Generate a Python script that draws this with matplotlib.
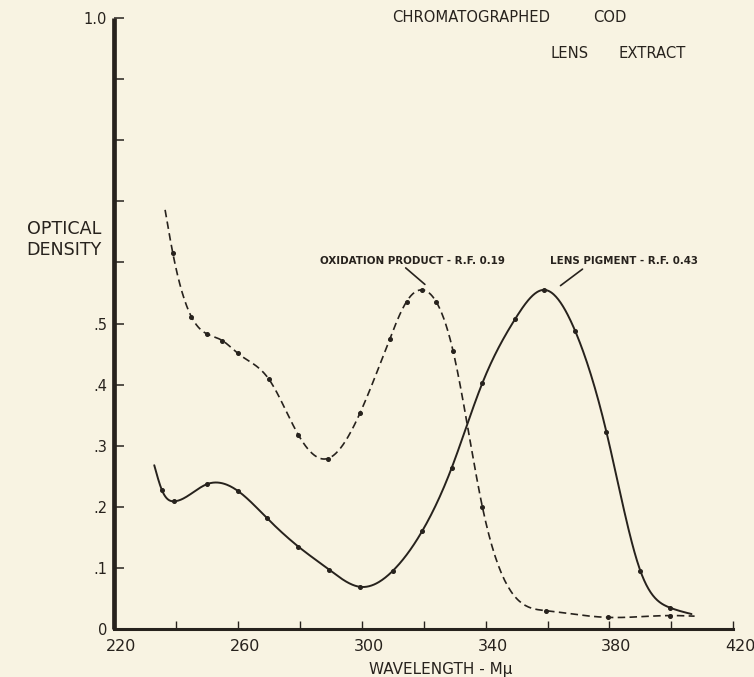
import numpy as np
import matplotlib
matplotlib.use("Agg")
import matplotlib.pyplot as plt
from matplotlib.transforms import ScaledTranslation

# ---------------- data ----------------
# Oxidation product (dashed); first / last entries are curve ends without dots
oxid_wl = [236.5, 239, 245, 250, 255, 260, 270, 279.5, 289, 299.5, 309, 314.5,
           319.5, 324, 329.5, 339, 359.5, 379.5, 399.5, 407.5]
oxid_od = [0.686, 0.615, 0.511, 0.483, 0.472, 0.451, 0.409, 0.318, 0.279, 0.354,
           0.474, 0.536, 0.555, 0.536, 0.455, 0.199, 0.030, 0.019, 0.022, 0.021]
oxid_dot = [False] + [True] * 18 + [False]

# Lens pigment (solid)
lens_wl = [233, 235.5, 239.5, 250, 260, 269.5, 279.5, 289.5, 299.5, 310, 319.5,
           329, 339, 349.5, 359, 369, 379, 390, 399.5, 406.5]
lens_od = [0.268, 0.227, 0.209, 0.237, 0.226, 0.181, 0.135, 0.097, 0.069, 0.095,
           0.160, 0.263, 0.403, 0.507, 0.555, 0.487, 0.323, 0.095, 0.035, 0.0245]
lens_dot = [False] + [True] * 18 + [False]

x_ticks = [220, 240, 260, 280, 300, 320, 340, 360, 380, 400, 420]
x_ticklabels = ["220", "", "260", "", "300", "", "340", "", "380", "", "420"]
y_ticks = [0, 0.1, 0.2, 0.3, 0.4, 0.5, 0.6, 0.7, 0.8, 0.9, 1.0]
y_ticklabels = ["0", ".1", ".2", ".3", ".4", ".5", "", "", "", "", "1.0"]

oxid_label = "OXIDATION PRODUCT - R.F. 0.19"
lens_label = "LENS PIGMENT - R.F. 0.43"
# leader lines (data coordinates): text end -> curve end
oxid_leader = [(314.2, 0.591), (320.4, 0.564)]
lens_leader = [(371.3, 0.589), (364.2, 0.562)]

# ---------------- style ----------------
BG = "#F8F3E2"
INK = "#27221d"
W, H = 754, 677


def fx(x):
    return x / W


def fy(y):
    return 1 - y / H


def smooth(xs, ys, n=40):
    """Natural cubic spline drawn through the given points."""
    x = np.asarray(xs, float)
    y = np.asarray(ys, float)
    k = len(x)
    h = np.diff(x)
    A = np.zeros((k, k))
    r = np.zeros(k)
    A[0, 0] = A[-1, -1] = 1.0
    for i in range(1, k - 1):
        A[i, i - 1] = h[i - 1]
        A[i, i] = 2 * (h[i - 1] + h[i])
        A[i, i + 1] = h[i]
        r[i] = 6 * ((y[i + 1] - y[i]) / h[i] - (y[i] - y[i - 1]) / h[i - 1])
    M = np.linalg.solve(A, r)
    outx, outy = [], []
    for i in range(k - 1):
        t = np.linspace(x[i], x[i + 1], n, endpoint=False)
        a = x[i + 1] - t
        b = t - x[i]
        s = (M[i] * a**3 + M[i + 1] * b**3) / (6 * h[i]) \
            + (y[i] / h[i] - M[i] * h[i] / 6) * a \
            + (y[i + 1] / h[i] - M[i + 1] * h[i] / 6) * b
        outx.append(t)
        outy.append(s)
    outx.append([x[-1]])
    outy.append([y[-1]])
    return np.concatenate(outx), np.concatenate(outy)


plt.rcParams["font.family"] = ["DejaVu Sans"]
fig = plt.figure(figsize=(W / 100, H / 100), dpi=100, facecolor=BG)
ax = fig.add_axes([fx(114), 48 / H, (733.3 - 114) / W, (629 - 18) / H])
ax.set_facecolor(BG)

# curves
sx, sy = smooth(lens_wl, lens_od)
ax.plot(sx, sy, color=INK, lw=1.4, solid_capstyle="round")
dx, dy = smooth(oxid_wl, oxid_od)
ax.plot(dx, dy, color=INK, lw=1.2, linestyle=(0, (4.5, 2.6)))

lw_arr, lo_arr, lm = np.array(lens_wl), np.array(lens_od), np.array(lens_dot)
ax.plot(lw_arr[lm], lo_arr[lm], "o", color=INK, ms=2.6, ls="none")
ow_arr, oo_arr, om = np.array(oxid_wl), np.array(oxid_od), np.array(oxid_dot)
ax.plot(ow_arr[om], oo_arr[om], "o", color=INK, ms=2.6, ls="none")

# leader lines
for (a, b) in (oxid_leader, lens_leader):
    ax.annotate("", xy=b, xytext=a, xycoords="data", textcoords="data",
                arrowprops=dict(arrowstyle="-", color=INK, lw=1.2,
                                shrinkA=0, shrinkB=0))

# axes
ax.set_xlim(220, 420)
ax.set_ylim(0, 1.0)
for s in ("top", "right"):
    ax.spines[s].set_visible(False)
ax.spines["left"].set_linewidth(3.4)
ax.spines["left"].set_color(INK)
ax.spines["bottom"].set_linewidth(2.2)
ax.spines["bottom"].set_color(INK)
ax.spines["left"].set_capstyle("butt")

ax.set_xticks(x_ticks)
ax.set_xticklabels(x_ticklabels)
ax.set_yticks(y_ticks)
ax.set_yticklabels(y_ticklabels)
ax.tick_params(axis="x", direction="in", length=6, width=1.0, color=INK,
               labelsize=11.5, labelcolor=INK, pad=7)
ax.tick_params(axis="y", direction="in", length=7, width=1.1, color=INK,
               labelsize=10.5, labelcolor=INK, pad=5)
off = ScaledTranslation(7 / 100, 0, fig.dpi_scale_trans)
for lbl in ax.get_xticklabels():
    lbl.set_transform(lbl.get_transform() + off)

# texts
def cap_px(size):
    return 0.729 * size * 100 / 72


def put(x, yc, s, size, ha="left", weight="normal"):
    fig.text(fx(x), fy(yc + cap_px(size) / 2), s, ha=ha, va="baseline",
             fontsize=size, color=INK, fontweight=weight)


put(392, 16.7, "CHROMATOGRAPHED", 10.6)
put(593, 16.7, "COD", 10.6)
put(550, 52.7, "LENS", 10.6)
put(618, 52.7, "EXTRACT", 10.6)
put(101, 228, "OPTICAL", 12.6, ha="right")
put(101, 249, "DENSITY", 12.6, ha="right")
put(319.5, 260.7, oxid_label, 7.4, weight="bold")
put(550, 260.7, lens_label, 7.4, weight="bold")
put(441, 668, "WAVELENGTH - Mμ", 11, ha="center")

fig.savefig("out.png", dpi=100, facecolor=BG)
